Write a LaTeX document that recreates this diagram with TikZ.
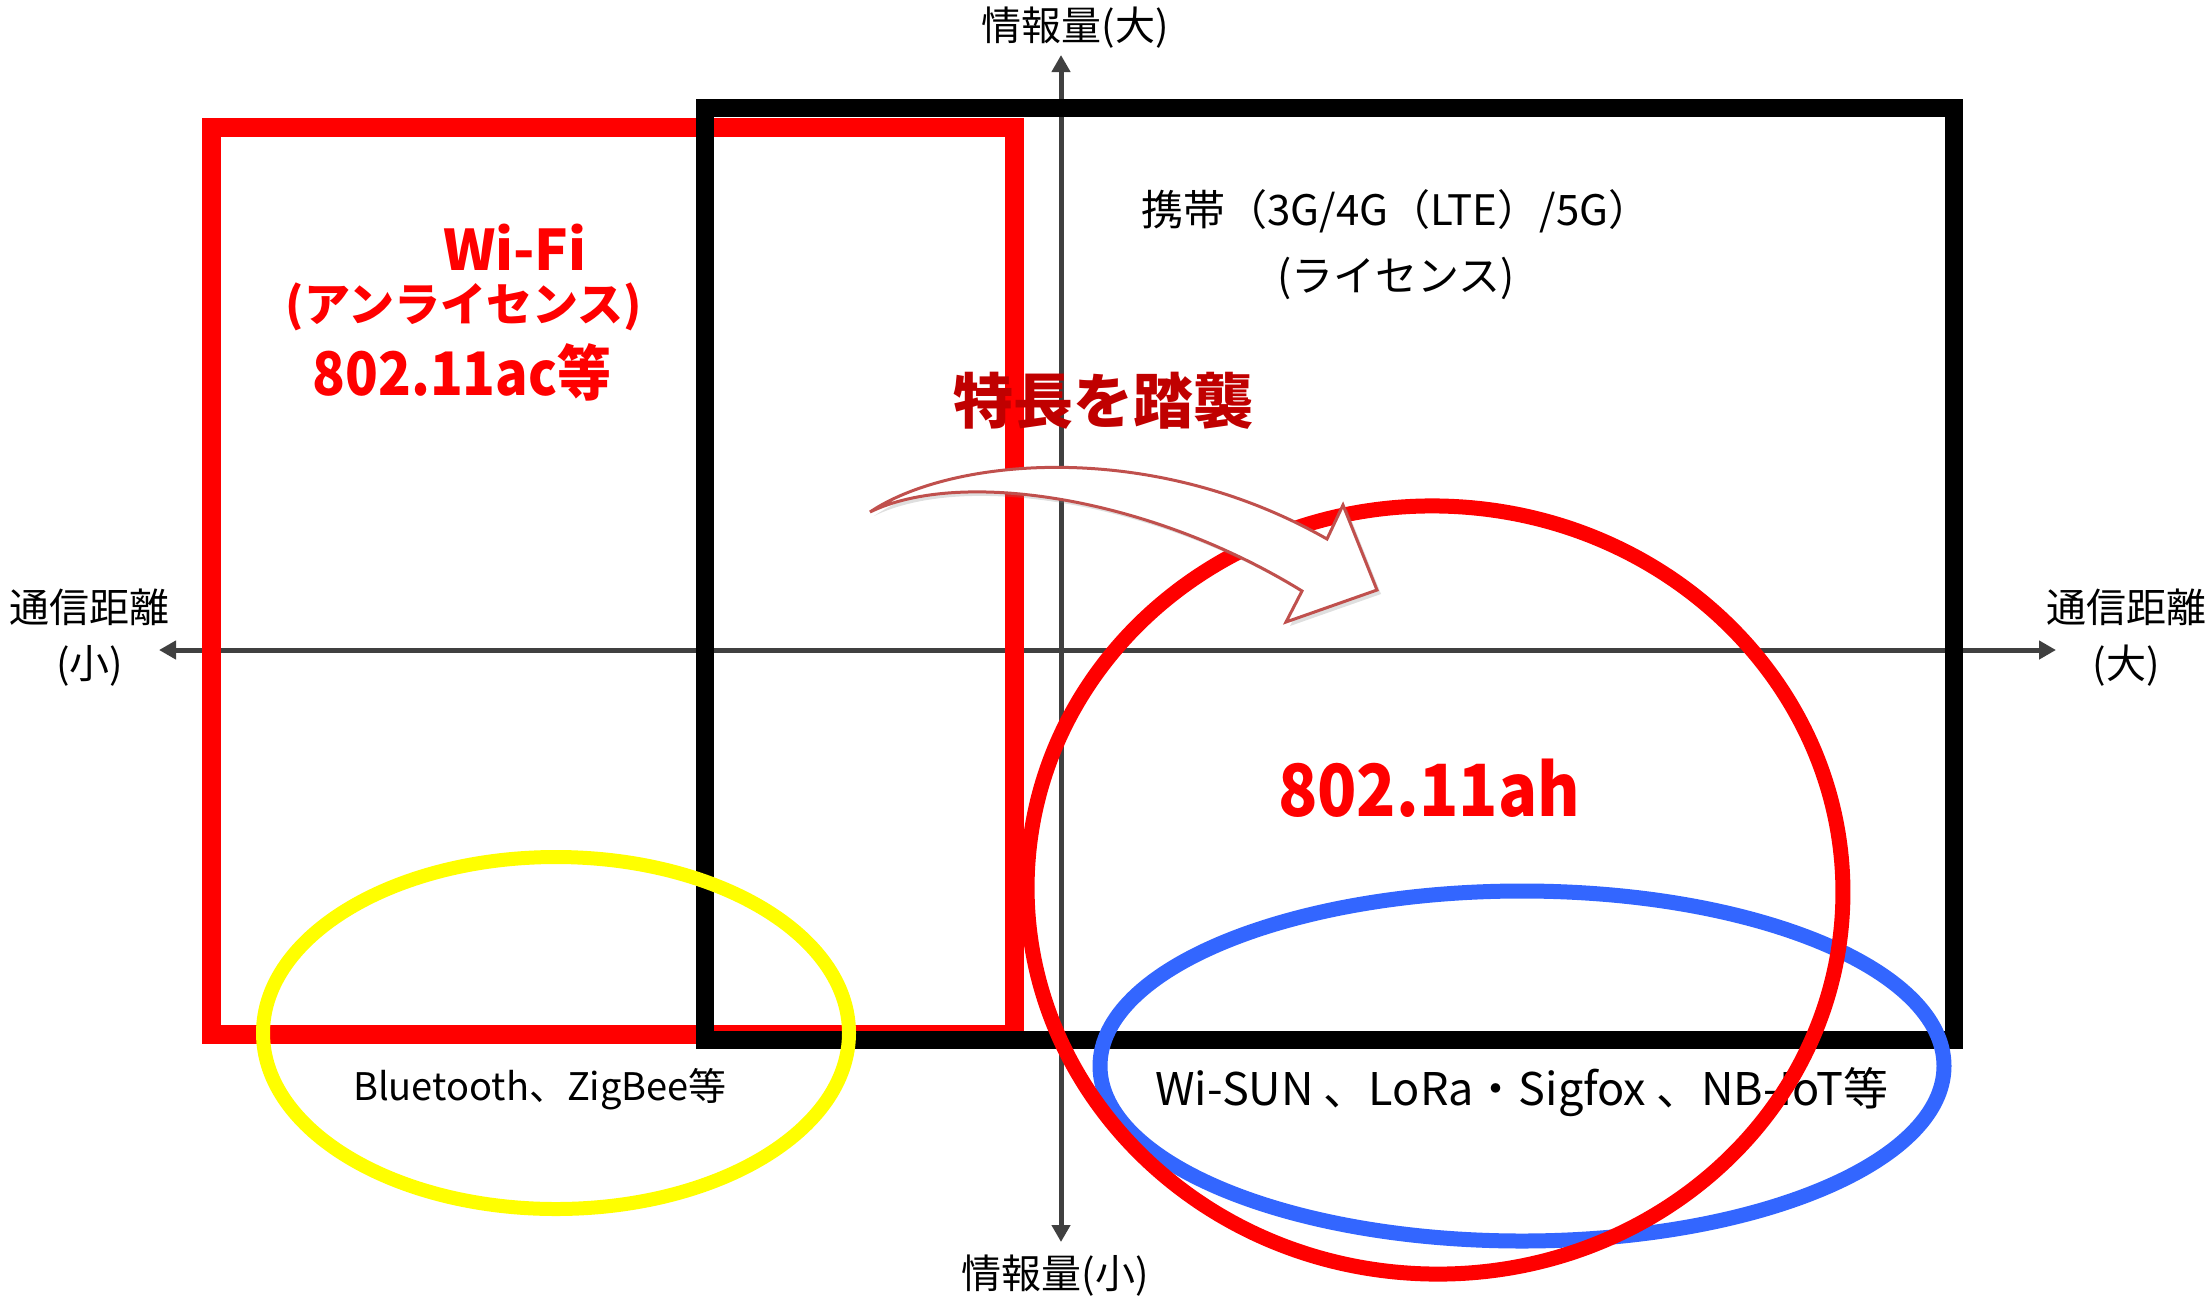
\documentclass[tikz,border=0pt]{standalone}
\usepackage{fontspec}
\setmainfont{Noto Sans CJK JP}
\newfontfamily\narrowfont[FakeStretch=0.9]{Noto Sans CJK JP}
\usetikzlibrary{arrows.meta,shadows}
\definecolor{axisgray}{HTML}{404040}
\definecolor{pure red}{HTML}{FF0000}
\definecolor{dark red}{HTML}{C00000}
\definecolor{lpblue}{HTML}{3366FF}
\definecolor{lpyellow}{HTML}{FFFF00}
\definecolor{arrowedge}{HTML}{C0504D}
\tikzset{
  axisline/.style={draw=axisgray, line width=2.5pt, {Triangle[length=8.5pt,width=9pt]}-{Triangle[length=8.5pt,width=9pt]}},
  redbox/.style={draw=pure red, line width=9.5pt},
  blackbox/.style={draw=black, line width=9pt},
  ring/.style={line width=7.5pt},
  lbl/.style={inner sep=0pt, font=\fontsize{20}{28}\selectfont, align=center},
  redtitle/.style={inner sep=0pt, text=pure red, font=\bfseries},
  smalltxt/.style={inner sep=0pt, text=black},
  bigarrow/.style={draw=arrowedge, line width=1.5pt, fill=white, line join=miter,
    drop shadow={opacity=0.25, shadow xshift=2pt, shadow yshift=-2pt}}
}
\begin{document}
\begin{tikzpicture}[x=0.5pt,y=-0.5pt]
\useasboundingbox (0,0) rectangle (2212,1303);

% axes
\coordinate (xl) at (159,650);
\coordinate (xr) at (2056,650);
\coordinate (yt) at (1061,55);
\coordinate (yb) at (1061,1242);
\draw[axisline] (xl) -- (xr);
\draw[axisline] (yb) -- (yt);

% rectangles
\draw[redbox] (211,127) rectangle (1014,1034);
\draw[blackbox] (705,108) rectangle (1954,1040);

% ellipses
\draw[ring, line width=7pt, draw=lpyellow] (556,1033) ellipse [x radius=146.5pt, y radius=88pt];
\draw[ring, draw=lpblue] (1522,1066) ellipse [x radius=211pt, y radius=87.5pt];

\node[smalltxt, font=\fontsize{22.5}{27}\selectfont] (lpwa) at (1522,1092) {Wi-SUN 、LoRa・Sigfox 、NB-IoT等};

\draw[ring, draw=pure red, rotate around={-3:(1435,890)}] (1435,890) ellipse [x radius=204pt, y radius=192pt];

% curved arrow
\coordinate (atail) at (870,512);
\coordinate (aup) at (1327,539);
\coordinate (abarb) at (1343,505);
\coordinate (atip) at (1377,590);
\coordinate (abarbb) at (1286,622);
\coordinate (alow) at (1302,591);
\path[bigarrow] (atail) .. controls (950,458) and (1150,438) .. (aup)
  -- (abarb) -- (atip) -- (abarbb) -- (alow)
  .. controls (1150,497) and (960,468) .. (atail) -- cycle;

% texts
\node[lbl] (yhi) at (1075,28) {情報量(大)};
\node[lbl] (ylo) at (1055,1276) {情報量(小)};
\node[lbl] (xlo) at (90,638) {通信距離\\(小)};
\node[lbl] (xhi) at (2126,638) {通信距離\\(大)};

\node[lbl, font=\fontsize{21}{33}\selectfont] (cell) at (1396,245) {携帯（3G/4G（LTE）/5G）\\(ライセンス)};

\node[redtitle, font=\bfseries\fontsize{28}{30}\selectfont] (wifi) at (515,247) {Wi-Fi};
\node[redtitle, font=\bfseries\fontsize{23}{30}\selectfont] (unlic) at (464,307) {(アンライセンス)};
\node[redtitle, font=\narrowfont\bfseries\fontsize{30}{34}\selectfont] (ac) at (462,372) {802.11ac等};

\node[inner sep=0pt, text=dark red, font=\bfseries\fontsize{30}{34}\selectfont] (inherit) at (1103,401) {特長を踏襲};

\node[redtitle, font=\narrowfont\bfseries\fontsize{36}{40}\selectfont] (ah) at (1429,788) {802.11ah};

\node[smalltxt, font=\fontsize{19}{24}\selectfont] (bt) at (540,1089) {Bluetooth、ZigBee等};
\end{tikzpicture}
\end{document}
